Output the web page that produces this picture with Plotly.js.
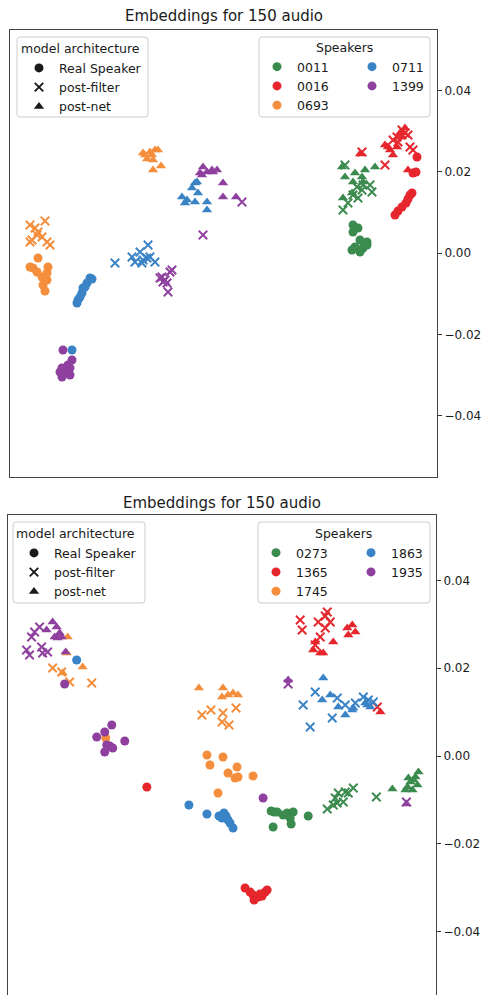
<!DOCTYPE html>
<html><head><meta charset="utf-8">
<script src="https://cdn.plot.ly/plotly-3.0.1.min.js"></script>
<style>html,body{margin:0;padding:0;background:#fff;overflow:hidden}#chart{width:484px;height:995px}</style>
</head><body><div id="chart"></div>
<script>
// ---------------- DATA ----------------
const models = ['Real Speaker', 'post-filter', 'post-net'];
const topSpeakers = ['0011', '0016', '0693', '0711', '1399'];
const bottomSpeakers = ['0273', '1365', '1745', '1863', '1935'];
const yTickVals = [-0.04, -0.02, 0, 0.02, 0.04];
const yTickText = ['\u22120.04', '\u22120.02', '0.00', '0.02', '0.04'];
const chartTitle = 'Embeddings for 150 audio';
const archLegendTitle = 'model architecture';
const speakerLegendTitle = 'Speakers';

// top panel
const t0011_real_x = [0.0259,0.0269,0.0259,0.0273,0.0287,0.0263,0.0279,0.0273,0.0287,0.0257];
const t0011_real_y = [0.00689,0.00615,0.00517,0.00320,0.00271,0.00148,0.00123,0.00025,0.00197,0.00074];
const t0011_filt_x = [0.0243,0.0267,0.0279,0.0293,0.0297,0.0259,0.0249,0.0239,0.0277,0.0269];
const t0011_filt_y = [0.02165,0.01624,0.01673,0.01673,0.01501,0.01427,0.01230,0.01058,0.01550,0.01353];
const t0011_net_x  = [0.0237,0.0243,0.0263,0.0283,0.0303,0.0277,0.0259,0.0239,0.0257,0.0279];
const t0011_net_y  = [0.02116,0.01870,0.01968,0.02042,0.02116,0.01870,0.01747,0.01353,0.01476,0.01747];

const t0016_real_x = [0.0387,0.0385,0.0379,0.0373,0.0369,0.0365,0.0357,0.0349,0.0343,0.0377];
const t0016_real_y = [0.02362,0.01993,0.01968,0.01427,0.01328,0.01230,0.01132,0.01033,0.00935,0.01476];
const t0016_filt_x = [0.0277,0.0323,0.0347,0.0363,0.0357,0.0373,0.0379,0.0349,0.0369,0.0339];
const t0016_filt_y = [0.02485,0.02165,0.02854,0.02952,0.03026,0.02608,0.02534,0.02731,0.02903,0.02780];
const t0016_net_x  = [0.0273,0.0329,0.0339,0.0357,0.0363,0.0369,0.0347,0.0333,0.0353,0.0323];
const t0016_net_y  = [0.02435,0.02608,0.02411,0.02854,0.03075,0.02042,0.02608,0.02534,0.02952,0.02657];

const t0693_real_x = [-0.0371,-0.0387,-0.0351,-0.0373,-0.0363,-0.0353,-0.0361,-0.0357,-0.0381,-0.0353];
const t0693_real_y = [-0.00123,-0.00344,-0.00344,-0.00467,-0.00590,-0.00664,-0.00787,-0.00935,-0.00369,-0.00492];
const t0693_filt_x = [-0.0387,-0.0377,-0.0357,-0.0371,-0.0383,-0.0363,-0.0353,-0.0347,-0.0373,-0.0387];
const t0693_filt_y = [0.00689,0.00615,0.00787,0.00517,0.00320,0.00394,0.00271,0.00197,0.00443,0.00271];
const t0693_net_x  = [-0.0161,-0.0147,-0.0131,-0.0153,-0.0141,-0.0125,-0.0141,-0.0157,-0.0143,-0.0137];
const t0693_net_y  = [0.02460,0.02485,0.02534,0.02312,0.02288,0.02140,0.02042,0.02411,0.02411,0.02534];

const t0711_real_x = [-0.0267,-0.0273,-0.0281,-0.0283,-0.0291,-0.0293,-0.0287,-0.0277,-0.0263,-0.0303];
const t0711_real_y = [-0.00615,-0.00738,-0.00861,-0.00984,-0.01156,-0.01230,-0.01082,-0.00836,-0.00640,-0.02386];
const t0711_filt_x = [-0.0217,-0.0183,-0.0167,-0.0151,-0.0177,-0.0161,-0.0147,-0.0137,-0.0163,-0.0153];
const t0711_filt_y = [-0.00246,-0.00098,0.00025,0.00197,-0.00221,-0.00172,-0.00098,-0.00221,-0.00246,-0.00123];
const t0711_net_x  = [-0.0057,-0.0063,-0.0051,-0.0083,-0.0077,-0.0057,-0.0033,-0.0033,-0.0053,-0.0073];
const t0711_net_y  = [0.01722,0.01599,0.01476,0.01378,0.01230,0.01255,0.01255,0.01058,0.01747,0.01304];

const t1399_real_x = [-0.0321,-0.0303,-0.0323,-0.0307,-0.0313,-0.0323,-0.0307,-0.0317,-0.0327,-0.0311];
const t1399_real_y = [-0.02386,-0.02632,-0.02829,-0.02829,-0.02927,-0.03050,-0.03001,-0.02952,-0.02927,-0.02755];
const t1399_filt_x = [0.0037,-0.0041,-0.0123,-0.0117,-0.0107,-0.0113,-0.0111,-0.0127,-0.0103,-0.0121];
const t1399_filt_y = [0.01255,0.00443,-0.00590,-0.00664,-0.00467,-0.00738,-0.00959,-0.00615,-0.00418,-0.00713];
const t1399_net_x  = [-0.0041,-0.0033,-0.0023,-0.0013,-0.0043,-0.0047,-0.0001,-0.0001,0.0025,-0.0021];
const t1399_net_y  = [0.02116,0.01993,0.02042,0.02042,0.01919,0.01968,0.01722,0.01378,0.01378,0.01993];

// bottom panel
const b0273_real_x = [0.0098,0.0104,0.0130,0.0142,0.0136,0.0138,0.0102,0.0172,0.0122,0.0110];
const b0273_real_y = [-0.01254,-0.01277,-0.01300,-0.01277,-0.01414,-0.01550,-0.01619,-0.01368,-0.01345,-0.01277];
const b0273_filt_x = [0.0210,0.0226,0.0232,0.0242,0.0252,0.0262,0.0308,0.0230,0.0222,0.0246];
const b0273_filt_y = [-0.01208,-0.00958,-0.00844,-0.01049,-0.00844,-0.00730,-0.00935,-0.01072,-0.01117,-0.00821];
const b0273_net_x  = [0.0340,0.0370,0.0376,0.0386,0.0392,0.0380,0.0366,0.0390,0.0372,0.0382];
const b0273_net_y  = [-0.00752,-0.00707,-0.00593,-0.00479,-0.00365,-0.00775,-0.00775,-0.00661,-0.00502,-0.00547];

const b1365_real_x = [-0.0150,0.0046,0.0056,0.0062,0.0064,0.0072,0.0080,0.0086,0.0090,0.0076];
const b1365_real_y = [-0.00707,-0.03010,-0.03101,-0.03169,-0.03283,-0.03215,-0.03192,-0.03101,-0.03055,-0.03146];
const b1365_filt_x = [0.0156,0.0160,0.0210,0.0206,0.0192,0.0216,0.0206,0.0196,0.0186,0.0310];
const b1365_filt_y = [0.03101,0.02873,0.03283,0.03192,0.03055,0.03055,0.02918,0.02713,0.02531,0.01117];
const b1365_net_x  = [0.0186,0.0196,0.0202,0.0222,0.0250,0.0260,0.0266,0.0252,0.0316,0.0182];
const b1365_net_y  = [0.02599,0.02348,0.02348,0.02599,0.02918,0.02987,0.02827,0.02759,0.01003,0.02417];

const b1745_real_x = [-0.0232,-0.0030,0.0002,-0.0024,0.0030,0.0012,0.0032,0.0026,0.0062,-0.0008];
const b1745_real_y = [0.00410,0.00023,-0.00023,-0.00205,-0.00251,-0.00388,-0.00479,-0.00502,-0.00456,-0.00844];
const b1745_filt_x = [-0.0338,-0.0320,-0.0304,-0.0260,-0.0040,-0.0022,0.0002,0.0000,0.0014,0.0028];
const b1745_filt_y = [0.02006,0.01915,0.01687,0.01664,0.00935,0.01049,0.00980,0.00775,0.00707,0.01094];
const b1745_net_x  = [-0.0308,-0.0310,-0.0278,-0.0318,-0.0046,0.0002,0.0000,0.0012,0.0022,0.0032];
const b1745_net_y  = [0.02713,0.02348,0.02029,0.01892,0.01550,0.01550,0.01345,0.01391,0.01436,0.01391];

const b1863_real_x = [-0.0290,-0.0066,-0.0030,-0.0006,0.0004,0.0000,0.0012,0.0016,0.0022,0.0008];
const b1863_real_y = [0.02189,-0.01117,-0.01322,-0.01368,-0.01300,-0.01414,-0.01459,-0.01528,-0.01642,-0.01368];
const b1863_filt_x = [0.0162,0.0186,0.0176,0.0220,0.0230,0.0266,0.0282,0.0302,0.0246,0.0292];
const b1863_filt_y = [0.01163,0.01459,0.00661,0.00866,0.01322,0.01208,0.01345,0.01231,0.01163,0.01277];
const b1863_net_x  = [0.0202,0.0200,0.0216,0.0232,0.0246,0.0262,0.0286,0.0296,0.0260,0.0290];
const b1863_net_y  = [0.01778,0.01277,0.01391,0.01117,0.00935,0.01094,0.01208,0.01117,0.01049,0.01163];

const b1935_real_x = [-0.0314,0.0082,-0.0220,-0.0234,-0.0250,-0.0194,-0.0230,-0.0218,-0.0234,-0.0224];
const b1935_real_y = [0.01642,-0.00958,0.00707,0.00547,0.00433,0.00342,0.00251,0.00182,0.00091,0.00228];
const b1935_filt_x = [-0.0364,-0.0380,-0.0390,-0.0384,-0.0360,-0.0358,-0.0348,-0.0374,0.0132,0.0368];
const b1935_filt_y = [0.02941,0.02713,0.02417,0.02303,0.02485,0.02348,0.02371,0.02827,0.01642,-0.01049];
const b1935_net_x  = [-0.0338,-0.0330,-0.0324,-0.0334,-0.0312,-0.0350,-0.0328,-0.0320,0.0132,0.0368];
const b1935_net_y  = [0.03055,0.02941,0.02804,0.02713,0.02371,0.02873,0.02690,0.02713,0.01733,-0.01094];

// ---------------- STYLE ----------------
const W = 484, H = 995;
const FONT = 'DejaVu Sans';
const palette = ['#3b8a4e', '#e6262d', '#f58e3c', '#3983c6', '#8f409f'];
const symbols = ['circle', 'x-thin', 'triangle-up'];
const sizes = [9, 8.5, 9];

const topData = {
  '0011': [[t0011_real_x,t0011_real_y],[t0011_filt_x,t0011_filt_y],[t0011_net_x,t0011_net_y]],
  '0016': [[t0016_real_x,t0016_real_y],[t0016_filt_x,t0016_filt_y],[t0016_net_x,t0016_net_y]],
  '0693': [[t0693_real_x,t0693_real_y],[t0693_filt_x,t0693_filt_y],[t0693_net_x,t0693_net_y]],
  '0711': [[t0711_real_x,t0711_real_y],[t0711_filt_x,t0711_filt_y],[t0711_net_x,t0711_net_y]],
  '1399': [[t1399_real_x,t1399_real_y],[t1399_filt_x,t1399_filt_y],[t1399_net_x,t1399_net_y]]
};
const bottomData = {
  '0273': [[b0273_real_x,b0273_real_y],[b0273_filt_x,b0273_filt_y],[b0273_net_x,b0273_net_y]],
  '1365': [[b1365_real_x,b1365_real_y],[b1365_filt_x,b1365_filt_y],[b1365_net_x,b1365_net_y]],
  '1745': [[b1745_real_x,b1745_real_y],[b1745_filt_x,b1745_filt_y],[b1745_net_x,b1745_net_y]],
  '1863': [[b1863_real_x,b1863_real_y],[b1863_filt_x,b1863_filt_y],[b1863_net_x,b1863_net_y]],
  '1935': [[b1935_real_x,b1935_real_y],[b1935_filt_x,b1935_filt_y],[b1935_net_x,b1935_net_y]]
};

function markerFor(m, color) {
  const mk = {symbol: symbols[m], size: sizes[m], color: color, opacity: 1};
  if (symbols[m] === 'x-thin') mk.line = {color: color, width: 1.9};
  else mk.line = {width: 0};
  return mk;
}

const traces = [];
function addPanel(speakers, data, xa, ya, legArch, legCol1, legCol2) {
  speakers.forEach((sp, si) => {
    models.forEach((mname, m) => {
      traces.push({
        type: 'scatter', mode: 'markers', xaxis: xa, yaxis: ya,
        x: data[sp][m][0], y: data[sp][m][1],
        marker: markerFor(m, palette[si]), showlegend: false, hoverinfo: 'skip'
      });
    });
  });
  // legend-only entries
  models.forEach((mname, m) => {
    traces.push({type: 'scatter', mode: 'markers', xaxis: xa, yaxis: ya, x: [null], y: [null],
      name: mname, legend: legArch, showlegend: true, marker: markerFor(m, '#1a1a1a')});
  });
  speakers.forEach((sp, si) => {
    traces.push({type: 'scatter', mode: 'markers', xaxis: xa, yaxis: ya, x: [null], y: [null],
      name: sp, legend: si < 3 ? legCol1 : legCol2, showlegend: true,
      marker: {symbol: 'circle', size: 9, color: palette[si]}});
  });
}
addPanel(topSpeakers, topData, 'x', 'y', 'legend', 'legend2', 'legend3');
addPanel(bottomSpeakers, bottomData, 'x2', 'y2', 'legend4', 'legend5', 'legend6');

const px = v => v / W;
const py = v => 1 - v / H;

function roundRect(x0, y0, x1, y1, r) {
  const X = v => px(v).toFixed(5), Y = v => py(v).toFixed(5);
  return 'M' + X(x0 + r) + ',' + Y(y0) + ' L' + X(x1 - r) + ',' + Y(y0) +
    ' Q' + X(x1) + ',' + Y(y0) + ' ' + X(x1) + ',' + Y(y0 + r) +
    ' L' + X(x1) + ',' + Y(y1 - r) + ' Q' + X(x1) + ',' + Y(y1) + ' ' + X(x1 - r) + ',' + Y(y1) +
    ' L' + X(x0 + r) + ',' + Y(y1) + ' Q' + X(x0) + ',' + Y(y1) + ' ' + X(x0) + ',' + Y(y1 - r) +
    ' L' + X(x0) + ',' + Y(y0 + r) + ' Q' + X(x0) + ',' + Y(y0) + ' ' + X(x0 + r) + ',' + Y(y0) + ' Z';
}
function box(x0, y0, x1, y1) {
  return {type: 'path', xref: 'paper', yref: 'paper', layer: 'above', path: roundRect(x0, y0, x1, y1, 3),
    fillcolor: 'rgba(255,255,255,0.8)', line: {color: '#cccccc', width: 1}};
}

const legFont = {family: FONT, size: 12.5, color: '#1a1a1a'};
function leg(x, y, title) {
  const o = {x: px(x), y: py(y), xanchor: 'left', yanchor: 'top', orientation: 'v',
    bgcolor: 'rgba(0,0,0,0)', borderwidth: 0, font: legFont, tracegroupgap: 0,
    itemclick: false, itemdoubleclick: false};
  if (title) o.title = {text: title, font: legFont, side: 'top'};
  return o;
}

function yax(domain, range) {
  return {domain: domain, range: range, side: 'right', ticks: 'outside', ticklen: 4, tickwidth: 1,
    tickcolor: '#333', tickvals: yTickVals, ticktext: yTickText, showgrid: false, zeroline: false,
    showline: true, mirror: true, linecolor: '#444', linewidth: 1,
    tickfont: {family: FONT, size: 12, color: '#1a1a1a'}, fixedrange: true};
}
function xax(domain, mirror, side) {
  return {domain: domain, range: [-0.0427, 0.0427], showticklabels: false, ticks: '', showgrid: false,
    zeroline: false, showline: true, mirror: mirror, side: side, linecolor: '#444', linewidth: 1, fixedrange: true};
}

const layout = {
  width: W, height: H, margin: {l: 0, r: 0, t: 0, b: 0}, paper_bgcolor: '#fff', plot_bgcolor: '#fff',
  font: {family: FONT, color: '#1a1a1a'},
  xaxis: Object.assign(xax([px(10), px(437)], true, 'bottom'), {anchor: 'y'}),
  yaxis: Object.assign(yax([py(477), py(30)], [-0.0551, 0.05486]), {anchor: 'x'}),
  // bottom panel is cut by the picture's lower edge: only its top frame line is drawn
  xaxis2: Object.assign(xax([px(8), px(436)], false, 'top'), {anchor: 'y2'}),
  yaxis2: Object.assign(yax([0, py(515)], [-0.05449, 0.05495]), {anchor: 'x2'}),
  legend: leg(19, 37, archLegendTitle),
  legend2: leg(257, 52),
  legend3: leg(352, 52),
  legend4: leg(14, 522, archLegendTitle),
  legend5: leg(256, 538),
  legend6: leg(351, 538),
  shapes: [box(17, 37, 148, 117), box(259, 37, 430, 117), box(13, 522, 145, 603), box(258, 522, 430, 603)],
  annotations: [
    {text: chartTitle, xref: 'paper', yref: 'paper', x: px(223.5), y: py(16), xanchor: 'center', yanchor: 'middle',
      showarrow: false, font: {family: FONT, size: 15, color: '#1a1a1a'}},
    {text: chartTitle, xref: 'paper', yref: 'paper', x: px(222), y: py(503), xanchor: 'center', yanchor: 'middle',
      showarrow: false, font: {family: FONT, size: 15, color: '#1a1a1a'}},
    {text: speakerLegendTitle, xref: 'paper', yref: 'paper', x: px(344.5), y: py(47), xanchor: 'center', yanchor: 'middle',
      showarrow: false, font: legFont},
    {text: speakerLegendTitle, xref: 'paper', yref: 'paper', x: px(343), y: py(533), xanchor: 'center', yanchor: 'middle',
      showarrow: false, font: legFont}
  ],
  showlegend: true
};

Plotly.newPlot('chart', traces, layout, {staticPlot: true, displayModeBar: false});
</script></body></html>
